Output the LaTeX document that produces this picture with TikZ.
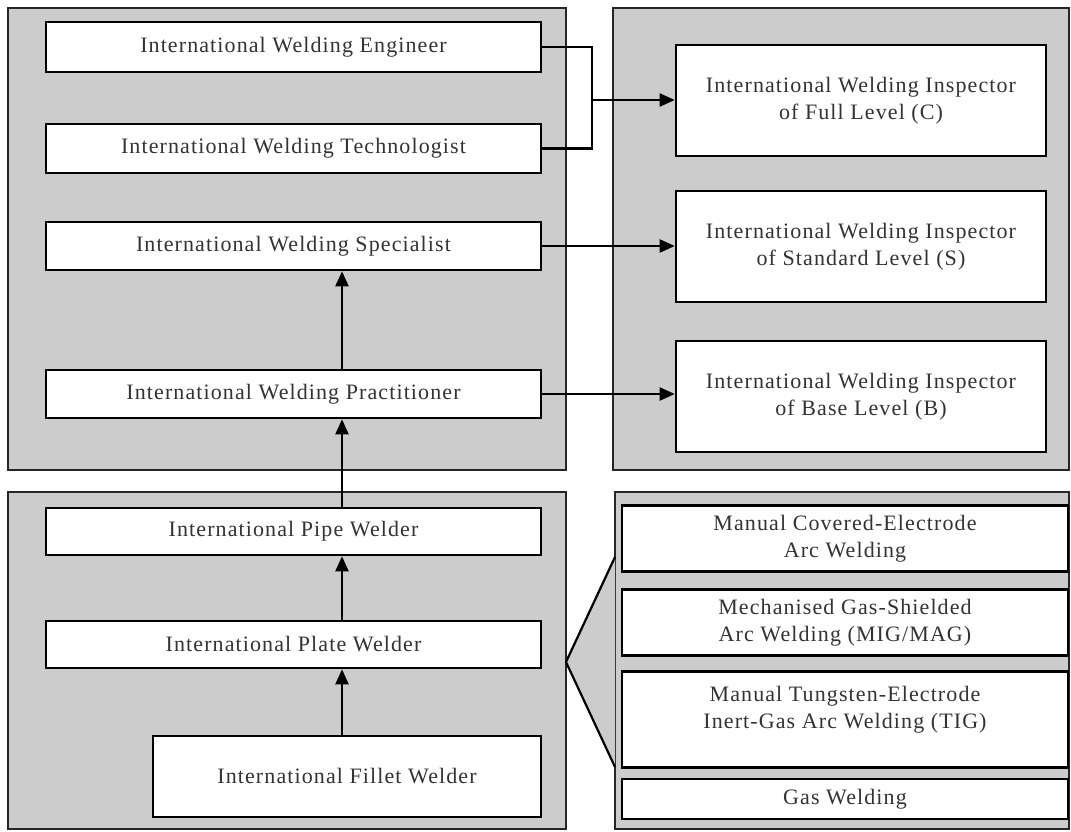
\documentclass[tikz,border=0pt]{standalone}
\usepackage{fontspec}
\setmainfont{Liberation Serif}[LetterSpace=5]
\usetikzlibrary{arrows.meta}
\tikzset{
  panel/.style={fill=black!20, draw=black!85, line width=2.2pt},
  box/.style={draw=black, fill=white, line width=2.6pt, align=center, inner sep=0pt,
    text=black!80, font=\fontsize{22}{27}\selectfont},
  conn/.style={draw=black, line width=2.2pt},
  arr/.style={conn, -{Triangle[length=15pt,width=13pt]}},
}
\begin{document}
\begin{tikzpicture}[x=1pt,y=-1pt]
\useasboundingbox (0,0) rectangle (1071,831);
% panels
\path[panel] (8,8) rectangle (566,470);
\path[panel] (613,8) rectangle (1069,470);
\path[panel] (8,492) rectangle (566,829);
\path[panel] (615,492) rectangle (1069,829);
% fan
\coordinate (apex) at (566,662);
\coordinate (fanA) at (615,557);
\coordinate (fanB) at (615,767);
\path[fill=black!20] (apex) -- (fanA) -- (fanB) -- cycle;
\draw[conn] (fanA) -- (apex) -- (fanB);
% boxes
\node[box, minimum width=495pt, minimum height=50pt] (eng) at (293.5,47) {International Welding Engineer};
\node[box, minimum width=495pt, minimum height=49pt] (tech) at (293.5,148.5) {International Welding Technologist};
\node[box, minimum width=495pt, minimum height=48pt] (spec) at (293.5,246) {International Welding Specialist};
\node[box, minimum width=495pt, minimum height=48pt] (prac) at (293.5,394) {International Welding Practitioner};
\node[box, minimum width=370pt, minimum height=111pt] (full) at (861,100.5) {International Welding Inspector\\of Full Level (C)};
\node[box, minimum width=370pt, minimum height=111pt] (std) at (861,246.5) {International Welding Inspector\\of Standard Level (S)};
\node[box, minimum width=370pt, minimum height=111pt] (base) at (861,396.5) {International Welding Inspector\\of Base Level (B)};
\node[box, minimum width=495pt, minimum height=47pt] (pipe) at (293.5,531.5) {International Pipe Welder};
\node[box, minimum width=495pt, minimum height=47pt] (plate) at (293.5,644.5) {International Plate Welder};
\node[box, minimum width=388pt, minimum height=81pt] (fillet) at (347,776.5) {International Fillet Welder};
\node[box, minimum width=446pt, minimum height=66pt, anchor=north] (mcw) at (845,504) {Manual Covered-Electrode\\Arc Welding};
\node[box, minimum width=446pt, minimum height=66pt, anchor=north] (mig) at (845,588) {Mechanised Gas-Shielded\\Arc Welding (MIG/MAG)};
\node[box, minimum width=446pt, minimum height=96pt, anchor=north, text depth=24pt] (tig) at (845,670) {Manual Tungsten-Electrode\\Inert-Gas Arc Welding (TIG)};
\node[box, minimum width=446pt, minimum height=40pt] (gas) at (845,799) {Gas Welding};
% bracket
\coordinate (br) at (592,100);
\draw[conn] (eng.east) -| (br) |- (tech.east);
\draw[arr] (br) -- (full.west |- br);
\draw[arr] (spec.east) -- (std.west |- spec.east);
\draw[arr] (prac.east) -- (base.west |- prac.east);
% vertical arrows
\draw[arr] (fillet.north -| 342,0) -- (plate.south -| 342,0);
\draw[arr] (plate.north -| 342,0) -- (pipe.south -| 342,0);
\draw[arr] (pipe.north -| 342,0) -- (prac.south -| 342,0);
\draw[arr] (prac.north -| 342,0) -- (spec.south -| 342,0);
\end{tikzpicture}
\end{document}
